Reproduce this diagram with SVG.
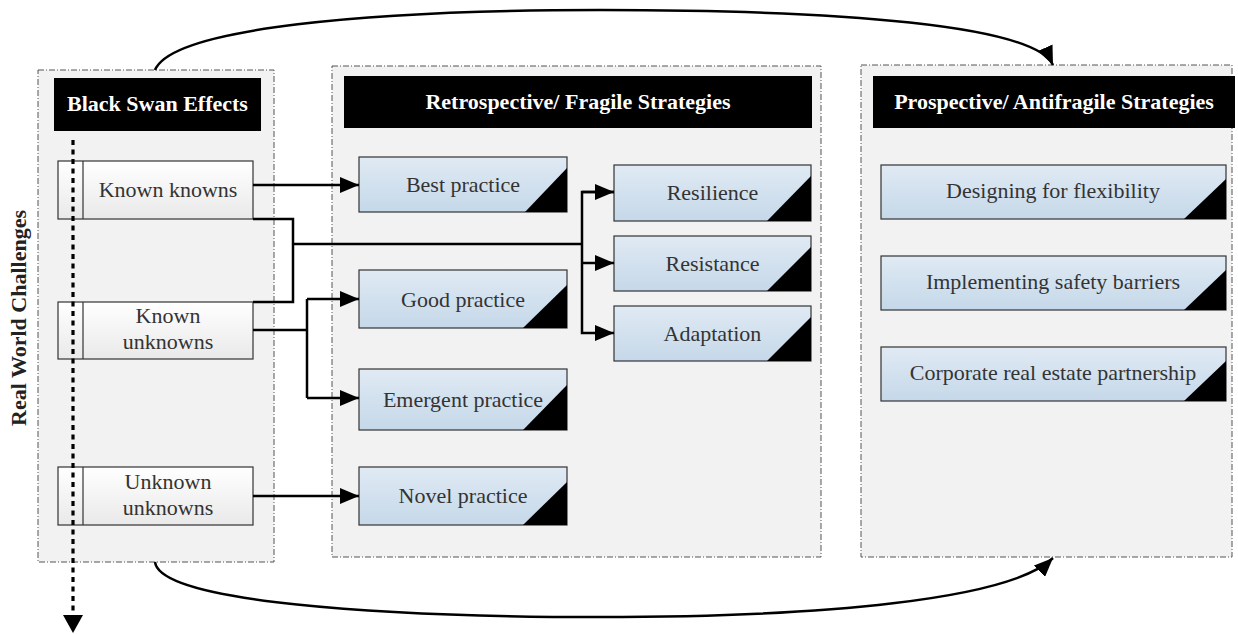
<svg xmlns="http://www.w3.org/2000/svg" width="1238" height="634" viewBox="0 0 1238 634">
<defs>
  <linearGradient id="gBlue" x1="0" y1="0" x2="0" y2="1">
    <stop offset="0" stop-color="#e0eaf4"/>
    <stop offset="1" stop-color="#c5d8e9"/>
  </linearGradient>
  <linearGradient id="gWhite" x1="0" y1="0" x2="0" y2="1">
    <stop offset="0" stop-color="#ffffff"/>
    <stop offset="1" stop-color="#e9e9e9"/>
  </linearGradient>
  <marker id="arr" viewBox="0 0 10 10" refX="10" refY="5" markerWidth="19" markerHeight="16" markerUnits="userSpaceOnUse" orient="auto" preserveAspectRatio="none">
    <path d="M0,0 L10,5 L0,10 z" fill="#000"/>
  </marker>
</defs>
<style>
  .panel { fill:#f2f2f2; stroke:#555; stroke-width:1; stroke-dasharray:6 2 1 2; }
  .hdr { fill:#000; }
  .hdrt { fill:#fff; font-family:"Liberation Serif", "Times New Roman", serif; font-weight:bold; font-size:22px; text-anchor:middle; }
  .blue { fill:url(#gBlue); stroke:#333; stroke-width:1.2; }
  .white { fill:url(#gWhite); stroke:#333; stroke-width:1.2; }
  .tri { fill:#000; }
  .t { fill:#333; font-family:"Liberation Serif", "Times New Roman", serif; font-size:22px; text-anchor:middle; }
  .conn { fill:none; stroke:#000; stroke-width:2.5; }
  .side { fill:#222; font-family:"Liberation Serif", "Times New Roman", serif; font-weight:bold; font-size:22px; text-anchor:middle; }
</style>
<rect width="1238" height="634" fill="#fff"/>

<g id="panel-black-swan">
  <rect class="panel" x="38" y="70" width="236" height="492"/>
  <rect class="hdr" x="54" y="78" width="207" height="53"/>
  <text class="hdrt" x="157.5" y="111">Black Swan Effects</text>
</g>
<g id="panel-retrospective">
  <rect class="panel" x="332" y="66" width="489" height="491"/>
  <rect class="hdr" x="344" y="76" width="468" height="52"/>
  <text class="hdrt" x="578" y="109">Retrospective/ Fragile Strategies</text>
</g>
<g id="panel-prospective">
  <rect class="panel" x="861" y="65" width="371" height="492"/>
  <rect class="hdr" x="873" y="76" width="362" height="52"/>
  <text class="hdrt" x="1054" y="109">Prospective/ Antifragile Strategies</text>
</g>

<g id="label-real-world">
  <text class="side" transform="translate(26,318) rotate(-90)">Real World Challenges</text>
</g>

<g id="node-known-knowns">
  <rect class="white" x="58" y="161" width="195" height="58"/>
  <line x1="83" y1="161" x2="83" y2="219" stroke="#333" stroke-width="1.2"/>
  <text class="t" x="168" y="197">Known knowns</text>
</g>
<g id="node-known-unknowns">
  <rect class="white" x="58" y="302" width="195" height="57"/>
  <line x1="83" y1="302" x2="83" y2="359" stroke="#333" stroke-width="1.2"/>
  <text class="t" x="168" y="323">Known</text>
  <text class="t" x="168" y="349">unknowns</text>
</g>
<g id="node-unknown-unknowns">
  <rect class="white" x="58" y="467" width="195" height="58"/>
  <line x1="83" y1="467" x2="83" y2="525" stroke="#333" stroke-width="1.2"/>
  <text class="t" x="168" y="489">Unknown</text>
  <text class="t" x="168" y="515">unknowns</text>
</g>

<g id="node-best-practice">
  <rect class="blue" x="359" y="157" width="208" height="55"/>
  <polygon class="tri" points="567,168 567,212 525,212"/>
  <text class="t" x="463" y="192">Best practice</text>
</g>
<g id="node-good-practice">
  <rect class="blue" x="359" y="270" width="208" height="58"/>
  <polygon class="tri" points="567,285 567,328 523,328"/>
  <text class="t" x="463" y="307">Good practice</text>
</g>
<g id="node-emergent-practice">
  <rect class="blue" x="359" y="369" width="208" height="61"/>
  <polygon class="tri" points="567,385 567,430 523,430"/>
  <text class="t" x="463" y="407">Emergent practice</text>
</g>
<g id="node-novel-practice">
  <rect class="blue" x="359" y="467" width="208" height="58"/>
  <polygon class="tri" points="567,482 567,525 523,525"/>
  <text class="t" x="463" y="503">Novel practice</text>
</g>
<g id="node-resilience">
  <rect class="blue" x="614" y="165" width="197" height="56"/>
  <polygon class="tri" points="811,176 811,221 767,221"/>
  <text class="t" x="712.5" y="200">Resilience</text>
</g>
<g id="node-resistance">
  <rect class="blue" x="614" y="236" width="197" height="55"/>
  <polygon class="tri" points="811,247 811,291 767,291"/>
  <text class="t" x="712.5" y="271">Resistance</text>
</g>
<g id="node-adaptation">
  <rect class="blue" x="614" y="306" width="197" height="55"/>
  <polygon class="tri" points="811,317 811,361 767,361"/>
  <text class="t" x="712.5" y="341">Adaptation</text>
</g>

<g id="node-designing">
  <rect class="blue" x="881" y="165" width="345" height="54"/>
  <polygon class="tri" points="1226,179 1226,219 1184,219"/>
  <text class="t" x="1053" y="198">Designing for flexibility</text>
</g>
<g id="node-implementing">
  <rect class="blue" x="881" y="256" width="345" height="54"/>
  <polygon class="tri" points="1226,270 1226,310 1184,310"/>
  <text class="t" x="1053" y="289">Implementing safety barriers</text>
</g>
<g id="node-corporate">
  <rect class="blue" x="881" y="347" width="345" height="54"/>
  <polygon class="tri" points="1226,361 1226,401 1184,401"/>
  <text class="t" x="1053" y="380">Corporate real estate partnership</text>
</g>

<g id="connectors">
  <path class="conn" d="M253,185 L359,185" marker-end="url(#arr)"/>
  <path class="conn" d="M253,219 L293,219 L293,302 L253,302"/>
  <path class="conn" d="M293,244 L582,244"/>
  <path class="conn" d="M614,192 L582,192 L582,333 L614,333" marker-end="url(#arr)"/>
  <path class="conn" d="M582,192 L614,192" marker-end="url(#arr)"/>
  <path class="conn" d="M582,263 L614,263" marker-end="url(#arr)"/>
  <path class="conn" d="M253,330 L307,330"/>
  <path class="conn" d="M307,299 L307,398"/>
  <path class="conn" d="M307,299 L359,299" marker-end="url(#arr)"/>
  <path class="conn" d="M307,398 L359,398" marker-end="url(#arr)"/>
  <path class="conn" d="M253,496 L359,496" marker-end="url(#arr)"/>
  <path class="conn" d="M155,70 C172,28 370,10 600,10 C840,10 1035,25 1053,65" marker-end="url(#arr)"/>
  <path class="conn" d="M155,562 C160,602 380,617 600,617 C820,617 1010,600 1053,558" marker-end="url(#arr)"/>
  <line x1="73" y1="140" x2="73" y2="616" stroke="#000" stroke-width="3.2" stroke-dasharray="5 4.5"/>
  <polygon points="63,615 83,615 73,633" fill="#000"/>
</g>
</svg>
